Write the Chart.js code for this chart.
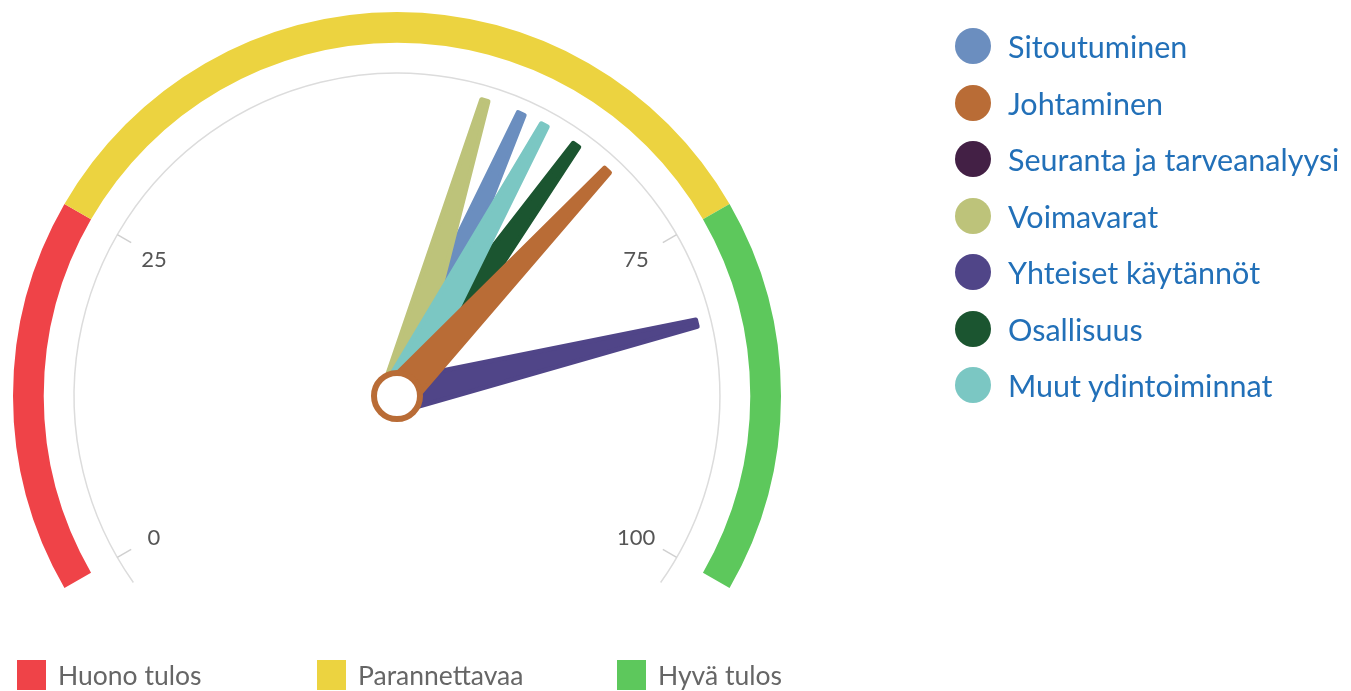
<!DOCTYPE html>
<html>
<head>
<meta charset="utf-8">
<script src="https://cdn.jsdelivr.net/npm/chart.js@4.4.1/dist/chart.umd.min.js"></script>
<style>
	html, body { margin: 0; padding: 0; background: #fff; overflow: hidden; }
	#wrap { position: relative; width: 1351px; height: 691px; }
	#gauge { position: absolute; left: 0; top: 0; }
	.legend-right { position: absolute; left: 955px; top: 18px; font-family: Lato, sans-serif; }
	.legend-right .item { height: 56.5px; display: flex; align-items: center; }
	.legend-right .dot { width: 36px; height: 36px; border-radius: 50%; margin-right: 17px; flex: none; }
	.legend-right .txt { color: #2270b8; font-size: 30.5px; line-height: 1; white-space: nowrap; }
	.legend-bottom { position: absolute; left: 17px; top: 660px; font-family: Lato, sans-serif; }
	.legend-bottom .item { position: absolute; top: 0; display: flex; align-items: center; white-space: nowrap; }
	.legend-bottom .box { width: 29px; height: 30px; margin-right: 12px; flex: none; }
	.legend-bottom .txt { color: #666; font-size: 26.5px; line-height: 30px; }
</style>
</head>
<body>
<div id="wrap">
	<canvas id="gauge"></canvas>
	<div class="legend-right" id="legendRight"></div>
	<div class="legend-bottom" id="legendBottom"></div>
</div>
<script>
/* gauge data */
const bandLabels = ['Huono tulos', 'Parannettavaa', 'Hyvä tulos'];
const bandSizes = [25, 50, 25];
const bandColors = ['#ef4348', '#ecd340', '#5dc85c'];

const tickValues = [0, 25, 75, 100];

const seriesNames = ['Sitoutuminen', 'Johtaminen', 'Seuranta ja tarveanalyysi', 'Voimavarat', 'Yhteiset käytännöt', 'Osallisuus', 'Muut ydintoiminnat'];
const seriesValues = [59.9, 67.9, null, 56.9, 81.8, 64.8, 61.9];
const seriesColors = ['#6b8ebf', '#b96c36', '#432045', '#bdc37a', '#504588', '#1b5530', '#7bc7c3'];
// stacking of the needles, bottom first
const drawOrder = [0, 2, 3, 5, 6, 4, 1];

function valueAngle(meta, v) {
	const first = meta.data[0];
	const last = meta.data[meta.data.length - 1];
	return first.startAngle + (v / 100) * (last.endAngle - first.startAngle);
}

function drawNeedle(ctx, cx, cy, ang, len, color) {
	ctx.save();
	ctx.translate(cx, cy);
	ctx.rotate(ang);
	ctx.beginPath();
	ctx.moveTo(0, -16);
	ctx.lineTo(len, -3.5);
	ctx.lineTo(len, 3.5);
	ctx.lineTo(0, 16);
	ctx.closePath();
	ctx.fillStyle = color;
	ctx.fill();
	ctx.lineWidth = 4.5;
	ctx.lineJoin = 'round';
	ctx.strokeStyle = color;
	ctx.stroke();
	ctx.restore();
}

const gaugePlugin = {
	id: 'gaugeDial',
	afterDatasetsDraw(chart) {
		const ctx = chart.ctx;
		const meta = chart.getDatasetMeta(0);
		const arc = meta.data[0];
		const cx = arc.x, cy = arc.y, R = arc.outerRadius;
		const rPlot = R * 0.841;

		// thin plot band circle
		ctx.save();
		ctx.beginPath();
		ctx.arc(cx, cy, rPlot, valueAngle(meta, -2.2), valueAngle(meta, 102.2));
		ctx.strokeStyle = '#dcdcdc';
		ctx.lineWidth = 1.5;
		ctx.stroke();

		// ticks + labels
		ctx.font = '22px Lato, sans-serif';
		ctx.fillStyle = '#555';
		ctx.textAlign = 'center';
		ctx.textBaseline = 'middle';
		tickValues.forEach(v => {
			const a = valueAngle(meta, v);
			ctx.beginPath();
			ctx.moveTo(cx + Math.cos(a) * rPlot, cy + Math.sin(a) * rPlot);
			ctx.lineTo(cx + Math.cos(a) * (rPlot - 16), cy + Math.sin(a) * (rPlot - 16));
			ctx.strokeStyle = '#d0d0d0';
			ctx.lineWidth = 1.5;
			ctx.stroke();
			const rl = R * 0.725;
			ctx.fillText(String(v), cx + Math.cos(a) * rl - 2, cy + Math.sin(a) * rl + 3);
		});
		ctx.restore();

		// needles
		const len = R * 0.803;
		drawOrder.forEach(i => {
			if (seriesValues[i] === null) return;
			drawNeedle(ctx, cx, cy, valueAngle(meta, seriesValues[i]), len, seriesColors[i]);
		});

		// pivot
		ctx.save();
		ctx.beginPath();
		ctx.arc(cx, cy, 23, 0, Math.PI * 2);
		ctx.fillStyle = '#fff';
		ctx.fill();
		ctx.lineWidth = 6;
		ctx.strokeStyle = seriesColors[1];
		ctx.stroke();
		ctx.restore();
	}
};

const canvas = document.getElementById('gauge');
canvas.width = 1351;
canvas.height = 691;

new Chart(canvas.getContext('2d'), {
	type: 'doughnut',
	data: {
		labels: bandLabels,
		datasets: [{
			data: bandSizes,
			backgroundColor: bandColors,
			borderWidth: 0,
			hoverOffset: 0,
		}],
	},
	options: {
		responsive: false,
		animation: false,
		rotation: -120,
		circumference: 240,
		cutout: '92%',
		layout: { padding: { left: 13, top: 12, right: 570, bottom: 103 } },
		plugins: {
			legend: { display: false },
			tooltip: { enabled: false },
		},
		events: [],
	},
	plugins: [gaugePlugin],
});

// legends
const lr = document.getElementById('legendRight');
seriesNames.forEach((name, i) => {
	const row = document.createElement('div');
	row.className = 'item';
	row.innerHTML = '<span class="dot" style="background:' + seriesColors[i] + '"></span><span class="txt"></span>';
	row.querySelector('.txt').textContent = name;
	lr.appendChild(row);
});

const lb = document.getElementById('legendBottom');
bandLabels.forEach((name, i) => {
	const item = document.createElement('div');
	item.className = 'item';
	item.style.left = (i * 300) + 'px';
	item.innerHTML = '<span class="box" style="background:' + bandColors[i] + '"></span><span class="txt"></span>';
	item.querySelector('.txt').textContent = name;
	lb.appendChild(item);
});
</script>
</body>
</html>
